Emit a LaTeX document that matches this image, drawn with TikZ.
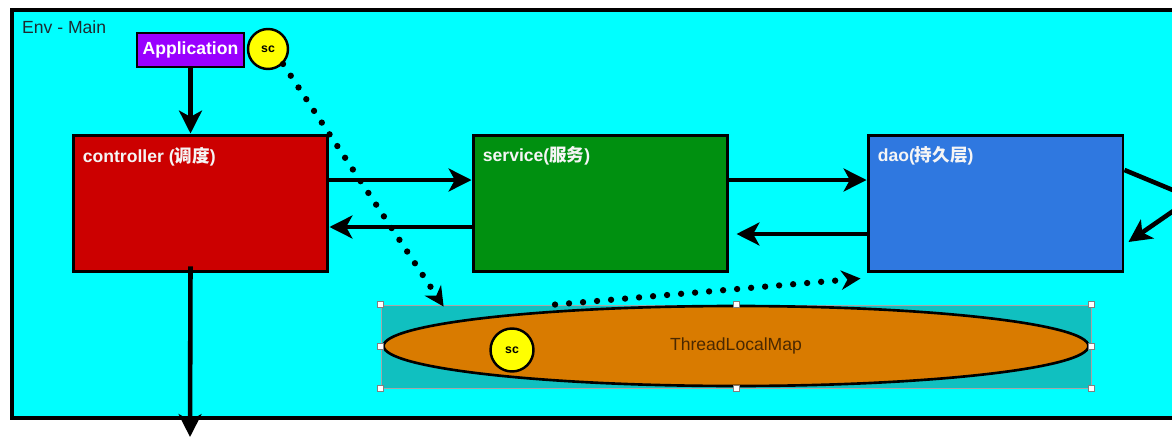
\documentclass[tikz,border=0pt]{standalone}
\usepackage{fontspec}
\setmainfont{Liberation Sans}
\newfontfamily\cjk{Noto Sans CJK SC}
\usetikzlibrary{arrows.meta,shapes.geometric,positioning}

\definecolor{envcyan}{HTML}{00FFFF}
\definecolor{envtext}{HTML}{1E2A30}
\definecolor{apppurple}{HTML}{9900FF}
\definecolor{ctrlred}{HTML}{CC0000}
\definecolor{svcgreen}{HTML}{009010}
\definecolor{daoblue}{HTML}{2F78E0}
\definecolor{selteal}{HTML}{10C0C0}
\definecolor{tlmorange}{HTML}{D97B00}
\definecolor{tlmtext}{HTML}{4A2800}
\definecolor{scyellow}{HTML}{FFFF00}

\begin{document}
\begin{tikzpicture}[x=0.02cm,y=-0.02cm,font=\fontsize{10}{12}\selectfont]
        \tikzstyle{layer}=[draw=black, line width=1.7pt, minimum width=5.1cm,
            minimum height=2.74cm, inner sep=0pt]
        \tikzstyle{layertext}=[anchor=north west, inner sep=0pt, xshift=0.22cm,
            yshift=-0.26cm, text=white!92!gray, font=\bfseries\fontsize{10}{12}\selectfont]
        \tikzstyle{sc}=[circle, draw=black, line width=1.4pt, fill=scyellow, inner sep=0pt,
            minimum size=0.8cm, font=\bfseries\fontsize{7}{8}\selectfont]
        \tikzstyle{flow}=[line width=2.6pt, -{Stealth[length=13pt,width=13pt,inset=3.5pt]}]
        \tikzstyle{dots}=[line width=3.6pt, line cap=round, dash pattern=on 0pt off 8pt,
            -{Stealth[length=11pt,width=11pt,inset=3.5pt]}]
        \tikzstyle{handle}=[draw=gray, fill=white, line width=0.4pt, inner sep=0pt,
            minimum size=0.12cm]

        \useasboundingbox (0,0) rectangle (1172,442);
        \fill[white] (0,0) rectangle (1172,442);
        \draw[line width=1.8pt, fill=envcyan] (12,10) rectangle (1200,418);
        \node[anchor=north west, text=envtext] (envLbl) at (16,15) {Env - Main};

        \node[draw=black, line width=1.5pt, fill=apppurple, text=white, font=\bfseries,
            minimum width=2.14cm, minimum height=0.68cm, inner sep=0pt] (app) at (190.5,50) {Application};
        \node[sc] (scA) at (268,49) {sc};

        \node[layer, fill=ctrlred,
            label={[layertext]north west:controller ({\cjk 调度})}]   (ctrl) at (200.5,203.5) {};
        \node[layer, fill=svcgreen,
            label={[layertext]north west:service({\cjk 服务})}]       (svc)  at (600.5,203.5) {};
        \node[layer, fill=daoblue,
            label={[layertext]north west:dao({\cjk 持久层})}]         (dao)  at (995.5,203.5) {};

        \node[draw=gray!70, line width=0.5pt, fill=selteal, minimum width=14.2cm,
            minimum height=1.66cm, inner sep=0pt] (sel) at (736,346.5) {};
        \node[ellipse, draw=black, line width=1.5pt, fill=tlmorange, text=tlmtext,
            minimum width=14.1cm, minimum height=1.6cm, inner sep=0pt] (tlm) at (736,346) {ThreadLocalMap};
        \node[sc, minimum size=0.86cm] (scB) at (512,350) {sc};
        \foreach \a/\n in {north west/1, north/2, north east/3, east/4,
                           south east/5, south/6, south west/7, west/8}
            \node[handle] (h\n) at (sel.\a) {};

        \coordinate (daoOut)  at (1192,198);
        \coordinate (ctrlOut) at (190,437);

        \draw[flow] (app.south) -- (app.south |- ctrl.north);
        \draw[flow] ([yshift=0.47cm]ctrl.east) -- ([yshift=0.47cm]svc.west);
        \draw[flow] ([yshift=-0.47cm]svc.west) -- ([yshift=-0.47cm]ctrl.east);
        \draw[flow] ([yshift=0.47cm]svc.east)  -- ([yshift=0.47cm]dao.west);
        \draw[flow, shorten >=4pt] ([yshift=-0.61cm]dao.west) -- ([yshift=-0.61cm]svc.east);
        \draw[flow] ([yshift=0.67cm]dao.east) -- (daoOut) -- ([yshift=-0.77cm,xshift=0.08cm]dao.east);
        \draw[flow] ([yshift=0.14cm]app.south |- ctrl.south) -- (ctrlOut);

        \draw[dots] (scA.-45) -- ([xshift=1.26cm,yshift=-0.04cm]sel.north west);
        \draw[dots] ([xshift=-3.62cm]sel.north) -- ([xshift=-0.12cm,yshift=-0.1cm]dao.south west);
\end{tikzpicture}
\end{document}
